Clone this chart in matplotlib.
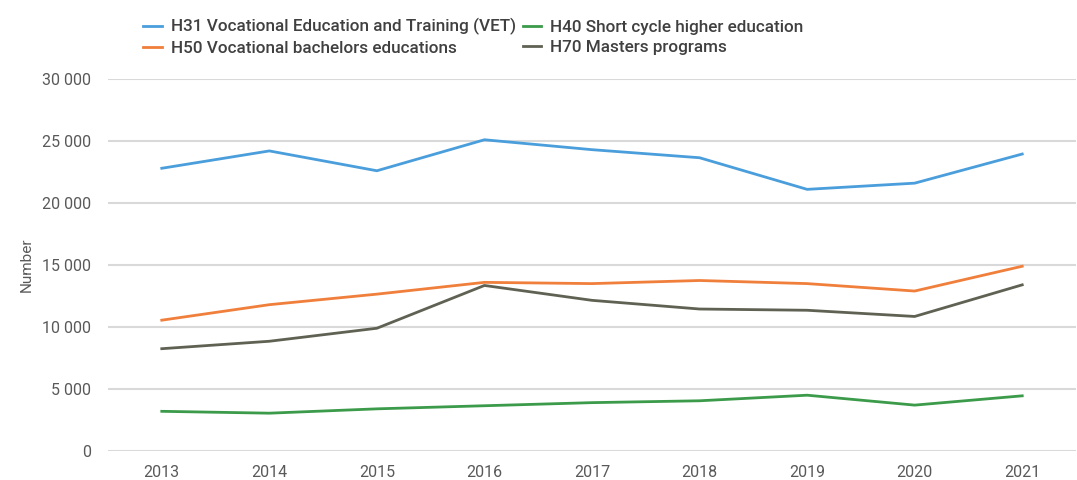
import matplotlib.pyplot as plt
from matplotlib.ticker import FuncFormatter

years = ['2013', '2014', '2015', '2016', '2017', '2018', '2019', '2020', '2021']
vet = [22800, 24200, 22600, 25100, 24300, 23650, 21100, 21600, 23950]
short_cycle = [3200, 3050, 3400, 3650, 3900, 4050, 4500, 3700, 4450]
bachelors = [10550, 11800, 12650, 13600, 13500, 13750, 13500, 12900, 14900]
masters = [8250, 8850, 9900, 13350, 12150, 11450, 11350, 10850, 13400]

plt.rcParams['font.family'] = ['Roboto', 'DejaVu Sans']

fig = plt.figure(figsize=(10.77, 4.8), dpi=100)
ax = fig.add_axes([108 / 1077, 29 / 480, 968 / 1077, 372 / 480])

x = range(len(years))
ax.plot(x, vet, color='#4a9edb', lw=2, label='H31 Vocational Education and Training (VET)')
ax.plot(x, bachelors, color='#f07f3c', lw=2, label='H50 Vocational bachelors educations')
ax.plot(x, short_cycle, color='#3b9b4a', lw=2, label='H40 Short cycle higher education')
ax.plot(x, masters, color='#5f6253', lw=2, label='H70 Masters programs')

ax.set_xlim(-0.5, len(years) - 0.5)
ax.set_ylim(0, 30000)
ax.set_yticks(range(0, 30001, 5000))
ax.yaxis.set_major_formatter(FuncFormatter(lambda v, p: f'{int(v):,}'.replace(',', ' ')))
ax.set_xticks(list(x))
ax.set_xticklabels(years)
ax.grid(axis='y', color='#d9d9d9', lw=1.5)
ax.set_axisbelow(True)
for s in ax.spines.values():
    s.set_visible(False)
ax.tick_params(length=0, labelsize=11.5, colors='#595959', pad=10)
ax.tick_params(axis='y', pad=12)
ax.set_ylabel('Number', fontsize=11, color='#595959', labelpad=6)

fig.legend(loc='upper left', bbox_to_anchor=(128 / 1077, 1 - 3 / 480), ncol=2,
           frameon=False, prop={'size': 12.3, 'weight': 'medium'},
           handlelength=1.1, handletextpad=0.5,
           columnspacing=0.4, labelspacing=0.3, labelcolor='#404040')

plt.savefig('out.png')
